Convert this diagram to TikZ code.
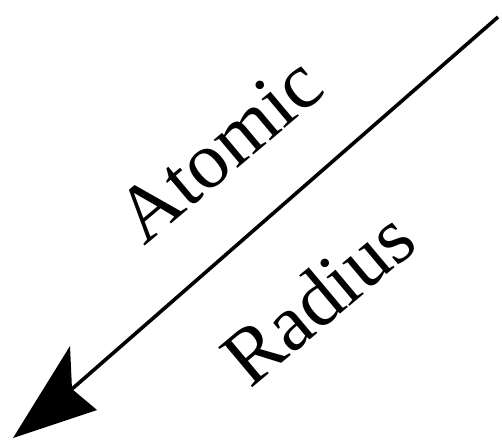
\documentclass[tikz,border=0pt]{standalone}
\usepackage{fontspec}
\setmainfont{Liberation Serif}
\begin{document}
\begin{tikzpicture}[x=1pt,y=-1pt,
  lbl/.style={anchor=base west,rotate=40,inner sep=0pt,font=\fontsize{80}{80}\selectfont},
  shaft/.style={line width=3.6pt,black},
  head/.style={fill=black}]
\useasboundingbox (0,0) rectangle (502,441);
\coordinate (start) at (498,17);
\coordinate (notch) at (72,389);
\coordinate (tip) at (13,438);
\coordinate (barbA) at (70,346);
\coordinate (barbB) at (97,410);
\draw[shaft] (start) -- (notch);
\fill[head] (tip) -- (barbA) -- (notch) -- (barbB) -- cycle;
\node[lbl] (atomic) at (144,247) {Atomic};
\node[lbl] (radius) at (250,390) {Radius};
\end{tikzpicture}
\end{document}
